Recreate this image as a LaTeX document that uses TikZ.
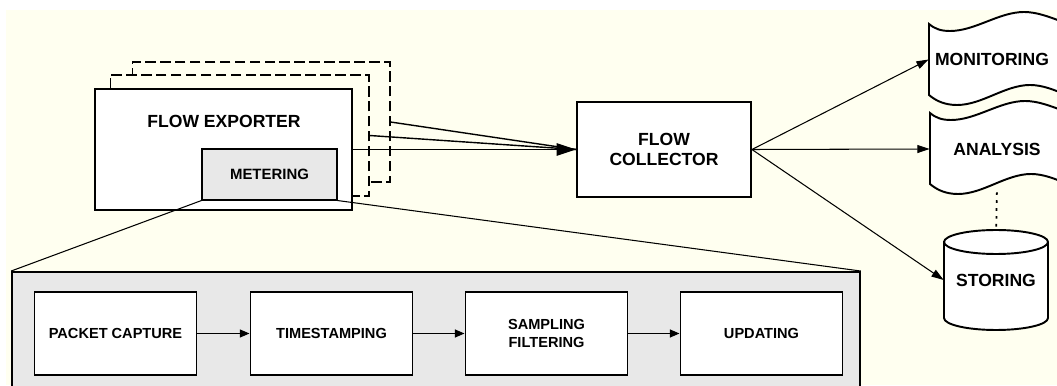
\documentclass[tikz,border=0pt]{standalone}
\usepackage{fontspec}
\setmainfont{Liberation Sans}
\usepackage{tikz}
\usetikzlibrary{arrows.meta,positioning}
\definecolor{bgcream}{HTML}{FFFFF0}
\definecolor{metergray}{HTML}{E8E8E8}

\begin{document}
\begin{tikzpicture}[x=0.02cm, y=0.02cm,
  box/.style={draw=black,line width=1.1pt,fill=white,inner sep=0pt,align=center,font=\fontsize{10}{11.5}\selectfont\bfseries},
  stepbox/.style={box,minimum width=3.24cm,minimum height=1.66cm,font=\fontsize{8.3}{10}\selectfont\bfseries},
  dupbox/.style={draw=black,line width=0.6pt,dash pattern=on 6pt off 2.5pt,fill=bgcream,inner sep=0pt},
  wave/.style={draw=black,line width=1.1pt,fill=white},
  lbl/.style={inner sep=0pt,align=center,font=\fontsize{10}{11.5}\selectfont\bfseries},
  arr/.style={-{Triangle[length=7pt,width=4.5pt]},line width=0.6pt},
  bigarr/.style={-{Triangle[length=11pt,width=7pt]},line width=0.8pt},
  steparr/.style={-{Triangle[length=5.5pt,width=4.5pt]},line width=0.8pt}
]
\useasboundingbox (0,0) rectangle (1057,385);
\clip (0,0) rectangle (1057,385);
\fill[bgcream] (6,0) rectangle (1057,375);

% Exporter with its copies
\node[dupbox,minimum width=5.16cm,minimum height=2.4cm] (dupb) at (261,263) {};
\node[dupbox,minimum width=5.18cm,minimum height=2.42cm] (dupa) at (239.5,249.5) {};
\node[box,minimum width=5.14cm,minimum height=2.42cm] (exp) at (223.5,235.5) {};
\node[lbl] (expname) at (224,264) {FLOW EXPORTER};
\node[box,fill=metergray,line width=0.6pt,minimum width=2.7cm,minimum height=1.02cm,font=\fontsize{8.5}{10}\selectfont\bfseries] (meter) at (269.5,210.5) {METERING};

% Collector
\node[box,minimum width=3.48cm,minimum height=1.9cm] (coll) at (664,235.5) {FLOW\\COLLECTOR};

% Applications
\draw[wave] (929,361) .. controls (935,356) and (941,354) .. (950,354) .. controls (975,354) and (999,373) .. (1024,373) .. controls (1049,373) and (1074,354) .. (1099,354)
  -- (1103,280) .. controls (1078,280) and (1055,300) .. (1030,300) .. controls (1005,300) and (982,280) .. (957,280) .. controls (945,280) and (936,284) .. (929,290) -- cycle;
\node[lbl,minimum width=2.52cm,minimum height=1.42cm] (mon) at (992,325.5) {MONITORING};

\draw[wave,shift={(1,-89)}] (929,361) .. controls (935,356) and (941,354) .. (950,354) .. controls (975,354) and (999,373) .. (1024,373) .. controls (1049,373) and (1074,354) .. (1099,354)
  -- (1103,280) .. controls (1078,280) and (1055,300) .. (1030,300) .. controls (1005,300) and (982,280) .. (957,280) .. controls (945,280) and (936,284) .. (929,290) -- cycle;
\node[lbl,minimum width=2.68cm,minimum height=1.44cm] (ana) at (997,236) {ANALYSIS};

\draw[wave] (944,143) -- (944,67) arc[start angle=180,end angle=360,x radius=1.04cm,y radius=0.24cm] -- (1048,143) arc[start angle=0,end angle=180,x radius=1.04cm,y radius=0.24cm] -- cycle;
\draw[line width=1.1pt] (944,143) arc[start angle=180,end angle=360,x radius=1.04cm,y radius=0.24cm];
\node[lbl,minimum width=2.08cm,minimum height=1.52cm] (sto) at (996,105) {STORING};

% Metering detail
\node[box,fill=metergray,minimum width=16.96cm,minimum height=2.66cm] (detail) at (436,46.5) {};
\node[stepbox] (capture) at (115.5,51.5) {PACKET CAPTURE};
\node[stepbox] (stamp) at (331.5,51.5) {TIMESTAMPING};
\node[stepbox] (sample) at (546.5,51.5) {SAMPLING\\FILTERING};
\node[stepbox] (update) at (761.5,51.5) {UPDATING};

\draw[line width=0.6pt] (meter.south west) -- (detail.north west);
\draw[line width=0.6pt] (meter.south east) -- (detail.north east);

\draw[bigarr] (exp.east) -- (coll.west);
\draw[line width=0.8pt] (dupa.east) -- (coll.west);
\draw[line width=0.8pt] (dupb.east) -- (coll.west);
\draw[arr] (coll.east) -- (mon.west);
\draw[arr] (coll.east) -- (ana.west);
\draw[arr] (coll.east) -- (sto.west);
\draw[line width=1pt,dash pattern=on 1.5pt off 3pt,shorten <=0.14cm,shorten >=0.24cm] (ana.south) -- (sto.north);
\draw[steparr] (capture) -- (stamp);
\draw[steparr] (stamp) -- (sample);
\draw[steparr] (sample) -- (update);
\end{tikzpicture}
\end{document}
